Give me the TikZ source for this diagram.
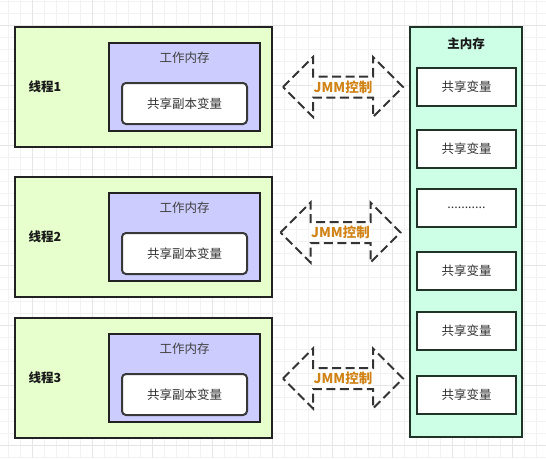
\documentclass[tikz,border=0pt]{standalone}
\usepackage{fontspec}
\setmainfont{Noto Sans CJK SC}
\usetikzlibrary{positioning}

\definecolor{threadfill}{HTML}{E6FFCC}
\definecolor{workfill}{HTML}{CCCCFF}
\definecolor{mainfill}{HTML}{CCFFE6}
\definecolor{edgedark}{HTML}{222222}
\definecolor{edgegreen}{HTML}{1F3326}
\definecolor{jmmorange}{HTML}{D08418}

\begin{document}
\begin{tikzpicture}[
    x=1pt, y=-1pt,
    every node/.style={font=\fontsize{12.5}{15}\selectfont, inner sep=0pt},
    gridminor/.style={draw=black!5, line width=0.6pt},
    gridmajor/.style={draw=black!10, line width=0.6pt},
    thread/.style={draw=edgedark, line width=2pt, fill=threadfill, minimum width=257pt, minimum height=120pt},
    work/.style={draw=edgedark, line width=2pt, fill=workfill, minimum width=151pt, minimum height=88pt},
    copybox/.style={draw=edgedark!90, line width=2pt, fill=white, rounded corners=4pt, minimum width=125pt, minimum height=41pt, text=black!80},
    mainmem/.style={draw=edgegreen, line width=2pt, fill=mainfill, minimum width=112pt, minimum height=410pt},
    varbox/.style={draw=edgegreen, line width=2pt, fill=white, minimum width=99pt, minimum height=38pt, text=black!80},
    jmmarrow/.style={draw=black!80, line width=2pt, dash pattern=on 9pt off 4.5pt},
    jmm/.style={text=jmmorange, font=\fontsize{13.5}{16}\selectfont\bfseries, fill=white, inner sep=1pt},
    tname/.style={font=\fontsize{12.5}{15}\selectfont\bfseries, text=black!90},
    wtitle/.style={text=black!75}
]

% Hintergrund
\fill[white] (0,0) rectangle (546,458);
\useasboundingbox (0,0) rectangle (546,458);
\foreach \x in {8,20,...,548}
    \draw[gridminor] (\x,0) -- (\x,458);
\foreach \y in {1,13,...,457}
    \draw[gridminor] (0,\y) -- (546,\y);
\foreach \x in {32,92,...,512}
    \draw[gridmajor] (\x,0) -- (\x,458);
\foreach \y in {25,85,...,445}
    \draw[gridmajor] (0,\y) -- (546,\y);

% Threads
\foreach \i/\cy in {1/87, 2/237, 3/378} {
    \node[thread] (thread\i) at (143.5,\cy) {};
    \node[tname] (name\i) at (45,\cy) {线程\i};
    \node[work] (work\i) at (184.5,\cy) {};
    \node[wtitle] (wtitle\i) at (184.5,\cy-29) {工作内存};
    \node[copybox] (copy\i) at (184.5,\cy+16.5) {共享副本变量};
}

% Main memory
\node[mainmem] (main) at (466,232) {};
\node[tname] (maintitle) at (466,44) {主内存};
\foreach \i/\cy/\txt in {1/87/共享变量, 2/149/共享变量, 3/208/{...........},
                         4/270.5/共享变量, 5/330.5/共享变量, 6/394.5/共享变量}
    \node[varbox] (var\i) at (466.5,\cy) {\txt};

% JMM arrows
\foreach \i/\cx/\cy in {1/343/87, 2/340.5/232.5, 3/343/378.5} {
    \draw[jmmarrow] (\cx-60,\cy) -- (\cx-30,\cy-30) -- (\cx-30,\cy-10.5)
        -- (\cx+30,\cy-10.5) -- (\cx+30,\cy-30) -- (\cx+60,\cy)
        -- (\cx+30,\cy+30) -- (\cx+30,\cy+10.5) -- (\cx-30,\cy+10.5)
        -- (\cx-30,\cy+30) -- cycle;
    \node[jmm] (jmm\i) at (\cx,\cy) {JMM控制};
}

\end{tikzpicture}
\end{document}
